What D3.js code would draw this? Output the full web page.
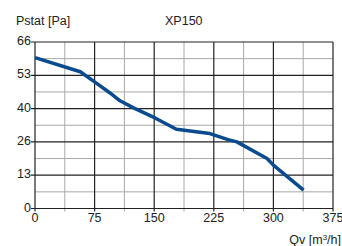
<!DOCTYPE html>
<html lang="en">
<head>
<meta charset="UTF-8">
<title>XP150</title>
<script src="https://d3js.org/d3.v7.min.js"></script>
<style>
    body { margin: 0; background: #fff; }
    svg { display: block; }
    text { font-family: "Liberation Sans", Arial, sans-serif; font-size: 12.5px; fill: #222; }
</style>
</head>
<body>
<svg id="chart" width="342" height="246"></svg>
<script>
    // curve data
    const flow = [0, 57, 75, 94, 107, 124, 151, 178, 220, 243, 254, 292, 300, 338];
    const pressure = [59.8, 54.2, 50.2, 45.9, 42.7, 39.9, 35.9, 31.4, 29.7, 27.3, 26.4, 19.8, 17.2, 7.3];

    const xTicks = [0, 75, 150, 225, 300, 375];
    const yTickLabels = ["0", "13", "26", "40", "53", "66"];

    const svg = d3.select("#chart");
    const plotLeft = 35, plotRight = 333, plotTop = 42, plotBottom = 208.5;

    const x = d3.scaleLinear().domain([0, 375]).range([plotLeft, plotRight]);
    const y = d3.scaleLinear().domain([0, 66]).range([plotBottom, plotTop]);
    const yStep = 66 / 5;

    // minor grid
    const g = svg.append("g");
    xTicks.slice(0, -1).forEach(t => {
        g.append("line")
            .attr("x1", x(t + 37.5)).attr("x2", x(t + 37.5))
            .attr("y1", plotTop).attr("y2", plotBottom + 3)
            .attr("stroke", "#a8a8a8").attr("stroke-width", 1);
    });
    yTickLabels.slice(0, -1).forEach((t, i) => {
        g.append("line")
            .attr("x1", plotLeft).attr("x2", plotRight)
            .attr("y1", y(i * yStep + yStep / 2)).attr("y2", y(i * yStep + yStep / 2))
            .attr("stroke", "#a8a8a8").attr("stroke-width", 1);
    });

    // major grid
    xTicks.forEach(t => {
        g.append("line")
            .attr("x1", x(t)).attr("x2", x(t))
            .attr("y1", plotTop).attr("y2", plotBottom + 3)
            .attr("stroke", "#222").attr("stroke-width", 1.2);
    });
    yTickLabels.forEach((t, i) => {
        g.append("line")
            .attr("x1", plotLeft - 4).attr("x2", plotRight)
            .attr("y1", y(i * yStep)).attr("y2", y(i * yStep))
            .attr("stroke", "#222").attr("stroke-width", 1.2);
    });

    // tick labels
    svg.selectAll(".xl").data(xTicks).enter().append("text")
        .attr("x", d => x(d)).attr("y", 222)
        .attr("text-anchor", "middle")
        .text(d => d);
    svg.selectAll(".yl").data(yTickLabels).enter().append("text")
        .attr("x", 31).attr("y", (d, i) => y(i * yStep) + 3)
        .attr("text-anchor", "end")
        .text(d => d);

    // curve
    const line = d3.line()
        .x(d => x(d[0]))
        .y(d => y(d[1]));
    svg.append("path")
        .datum(flow.map((f, i) => [f, pressure[i]]))
        .attr("d", line)
        .attr("fill", "none")
        .attr("stroke", "#0a4a8e")
        .attr("stroke-width", 3.5)
        .attr("stroke-linejoin", "round");

    // titles
    svg.append("text").attr("x", 16).attr("y", 25).text("Pstat [Pa]");
    svg.append("text").attr("x", 165).attr("y", 25).text("XP150");
    svg.append("text").attr("x", 341).attr("y", 244).attr("text-anchor", "end")
        .html("Qv [m<tspan dy='-4' font-size='8px'>3</tspan><tspan dy='4'>/h]</tspan>");
</script>
</body>
</html>
